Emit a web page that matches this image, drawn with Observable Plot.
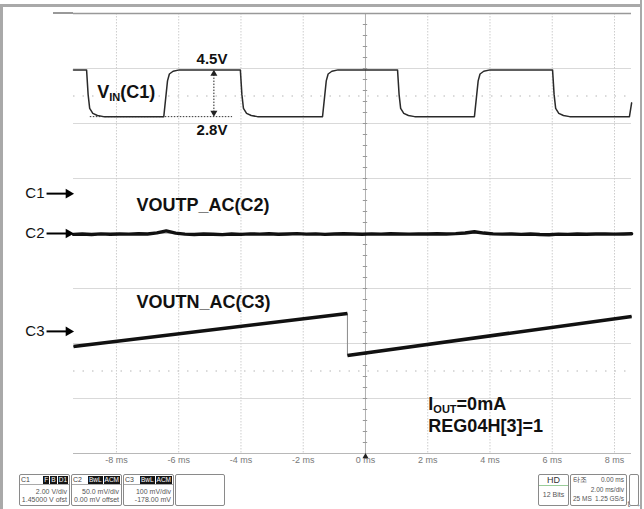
<!DOCTYPE html>
<html><head><meta charset="utf-8">
<script src="https://cdn.jsdelivr.net/npm/d3@7"></script>
<script src="https://cdn.jsdelivr.net/npm/@observablehq/plot@0.6"></script>
<style>
body{margin:0;background:#fff;}
#wrap{position:relative;width:644px;height:509px;overflow:hidden;background:#fff;font-family:"Liberation Sans",Arial,sans-serif;}
#wrap svg{position:absolute;left:0;top:0;}
.bar{position:absolute;background:#a9a9a9;}
.box{position:absolute;top:474px;height:32px;border:1px solid #8a8a8a;border-radius:2px;background:#fff;box-sizing:border-box;white-space:nowrap;overflow:hidden;
 font-family:"Liberation Sans Narrow","Liberation Sans",Arial,sans-serif;font-size:7px;color:#555;line-height:8px;}
.hdr{height:10px;border-bottom:1px solid #aaa;display:flex;align-items:center;padding:0 1px;box-sizing:border-box;}
.hdr .nm{flex:1;color:#444;}
.bd{background:#151515;color:#fff;padding:0 1px;margin-left:1px;font-size:6.5px;line-height:8px;}
.ln{text-align:right;padding-right:2px;}
.row{display:flex;justify-content:space-between;padding:0 2px;font-size:6.5px;}
</style></head><body><div id="wrap"></div>
<script>
// ---- data ----
const channels = ["C1", "C2", "C3"];
const voltsPerDiv = [2.0, 0.05, 0.1];
const offsets = [1.45, 0, -0.178];
const vdivLabels = ["2.00 V/div", "50.0 mV/div", "100 mV/div"];
const offsetLabels = ["1.45000 V ofst", "0.00 mV offset", "-178.00 mV"];
const badges = [["F", "B", "D1"], ["BwL", "ACM"], ["BwL", "ACM"]];
const timeTicks = [-8, -6, -4, -2, 0, 2, 4, 6, 8];
const timeWindow = [-9.38, 8.546];

// C1 input square wave (V)
const c1Time = [-9.38, -8.96, -8.91, -8.86, -8.76, -8.61, -8.41, -6.48, -6.36, -6.30, -6.18, -5.98,
  -4.02, -3.97, -3.92, -3.82, -3.67, -3.47, -1.38, -1.26, -1.20, -1.08, -0.88,
  1.03, 1.08, 1.13, 1.23, 1.38, 1.58, 3.50, 3.62, 3.68, 3.80, 4.00,
  6.01, 6.06, 6.11, 6.21, 6.36, 6.56, 8.48, 8.55];
const c1Volt = [4.5, 4.5, 3.6, 3.1, 2.92, 2.84, 2.8, 2.8, 4.1, 4.35, 4.45, 4.5,
  4.5, 3.6, 3.1, 2.92, 2.84, 2.8, 2.8, 4.1, 4.35, 4.45, 4.5,
  4.5, 3.6, 3.1, 2.92, 2.84, 2.8, 2.8, 4.1, 4.35, 4.45, 4.5,
  4.5, 3.6, 3.1, 2.92, 2.84, 2.8, 2.8, 3.3];

// C2 VOUTP AC (mV)
const c2Time = [-9.38, -9.1, -8.8, -8.5, -8.2, -7.9, -7.6, -7.3, -7.0, -6.7,
  -6.4, -6.1, -5.8, -5.5, -5.2, -4.9, -4.6, -4.3, -4.0, -3.7,
  -3.4, -3.1, -2.8, -2.5, -2.2, -1.9, -1.6, -1.3, -1.0, -0.7,
  -0.4, -0.1, 0.2, 0.5, 0.8, 1.1, 1.4, 1.7, 2.0, 2.3,
  2.6, 2.9, 3.2, 3.5, 3.8, 4.1, 4.4, 4.7, 5.0, 5.3,
  5.6, 5.9, 6.2, 6.5, 6.8, 7.1, 7.4, 7.7, 8.0, 8.3, 8.55];
const c2mV = [-0.8, -0.5, -0.9, -0.3, -0.7, -0.4, -0.6, -0.2, -0.5, 0.6,
  2.4, 0.3, -0.6, -0.9, -0.4, -0.7, -1.0, -0.5, -0.8, -0.3,
  -0.6, -0.2, -0.7, -0.4, -0.1, -0.6, -0.3, -0.8, -0.4, -0.2,
  -0.5, -0.7, -0.3, -0.6, -0.2, -0.4, -0.6, -0.3, -0.5, -0.2,
  -0.4, -0.1, 0.5, 1.6, 0.4, -0.3, -0.6, -0.4, -0.8, -0.5,
  -0.9, -1.1, -0.6, -0.8, -0.4, -0.7, -0.5, -0.3, -0.6, -0.4, -0.2];

// C3 VOUTN AC (V) sawtooth
const c3Time = [-9.38, -0.58, -0.58, 8.55];
const c3Volt = [-0.0275, 0.0325, -0.0438, 0.0271];

// ---- helpers ----
const toDiv = (v, ch) => (v + offsets[ch]) / voltsPerDiv[ch];
const c1 = c1Time.map((t, i) => ({t, y: toDiv(c1Volt[i], 0)}));
const c2 = c2Time.map((t, i) => ({t, y: toDiv(c2mV[i] / 1000, 1)}));
const c3 = c3Time.map((t, i) => ({t, y: toDiv(c3Volt[i], 2)}));
const c3Segs = [];
for (let i = 1; i < c3.length; i++) if (c3[i].t !== c3[i - 1].t) c3Segs.push({a: c3[i - 1], b: c3[i]});
const markers = channels.map((name, i) => ({name, y: toDiv(0, i)}));

const bold = {fontWeight: "bold", fill: "#111", fontFamily: "Liberation Sans, Arial, sans-serif"};

const plot = Plot.plot({
  width: 644, height: 509,
  marginLeft: 73, marginRight: 13, marginTop: 13, marginBottom: 56,
  x: {domain: timeWindow, axis: null},
  y: {domain: [-4, 4], axis: null},
  style: {fontFamily: "Liberation Sans, Arial, sans-serif", background: "transparent", overflow: "visible"},
  marks: [
    Plot.ruleY([-3, -2, -1, 1, 2, 3], {stroke: "#d9d9d9", strokeWidth: 1.2}),
    Plot.ruleY([-2.5, 2.5], {stroke: "#b5b5b5", strokeDasharray: "1.5,8"}),
    Plot.ruleX(timeTicks.filter(t => t !== 0), {stroke: "#cdcdcd", strokeDasharray: "1.5,1.5"}),
    Plot.ruleX([0], {stroke: "#b0b0b0"}),
    Plot.ruleY([0], {stroke: "#c0c0c0"}),
    Plot.ruleY(d3.range(-3.8, 3.9, 0.2), {x1: -0.07, x2: 0.07, stroke: "#999"}),
    Plot.ruleY([4], {stroke: "#999", strokeWidth: 1.5}),
    Plot.ruleY([-4], {stroke: "#b8b8b8", strokeWidth: 1.2}),
    // C1 level annotation
    Plot.ruleY([toDiv(2.8, 0)], {x1: -8.84, x2: -4.27, stroke: "#333", strokeDasharray: "1.5,1.5"}),
    Plot.ruleX([-4.87], {y1: toDiv(4.42, 0), y2: toDiv(2.88, 0), stroke: "#222", strokeDasharray: "1.5,1.5"}),
    Plot.dot([{v: 4.36, r: 0}, {v: 2.94, r: 180}], {x: () => -4.87, y: d => toDiv(d.v, 0), rotate: "r", symbol: "triangle", r: 2.6, fill: "#222", stroke: null}),
    // traces
    Plot.line(c1, {x: "t", y: "y", stroke: "#2a2a2a", strokeWidth: 1.5}),
    Plot.line(c2, {x: "t", y: "y", stroke: "#111", strokeWidth: 3.4}),
    Plot.line(c3, {x: "t", y: "y", stroke: "#8a8a8a", strokeWidth: 1}),
    Plot.link(c3Segs, {x1: d => d.a.t, y1: d => d.a.y, x2: d => d.b.t, y2: d => d.b.y, stroke: "#111", strokeWidth: 3.6}),
    // channel ground markers
    Plot.text(markers, {frameAnchor: "left", y: "y", text: "name", dx: -29, textAnchor: "end", fontSize: 15, fill: "#111"}),
    Plot.ruleY(markers, {y: "y", x1: timeWindow[0] - 0.85, x2: timeWindow[0] - 0.2, stroke: "#000", strokeWidth: 2}),
    Plot.dot(markers, {frameAnchor: "left", y: "y", dx: -5, symbol: "triangle", rotate: 90, r: 3.6, fill: "#000", stroke: null}),
    // annotations
    Plot.text([4.5], {x: () => -4.93, y: d => toDiv(d, 0), text: d => `${d}V`, dy: -11, fontSize: 15, ...bold}),
    Plot.text([2.8], {x: () => -4.93, y: d => toDiv(d, 0), text: d => `${d}V`, dy: 14, fontSize: 15, ...bold}),
    Plot.text(["V|IN|(C1)"], {x: () => -8.62, y: () => toDiv(3.68, 0), text: d => d, textAnchor: "start", fontSize: 18, ...bold}),
    Plot.text(["VOUTP_AC(C2)"], {x: () => -7.36, y: () => 0.51, text: d => d, textAnchor: "start", fontSize: 18, ...bold}),
    Plot.text(["VOUTN_AC(C3)"], {x: () => -7.36, y: () => -1.255, text: d => d, textAnchor: "start", fontSize: 18, ...bold}),
    Plot.text(["I|OUT|=0mA", "REG04H[3]=1"], {x: () => 2.02, y: (d, i) => [-3.10, -3.50][i], text: d => d, textAnchor: "start", fontSize: 18, ...bold}),
    // time axis
    Plot.axisX(timeTicks, {tickSize: 0, tickPadding: 3, tickFormat: d => `${d} ms`, fontSize: 9, fill: "#777",
      fontFamily: "Liberation Sans Narrow, Liberation Sans, Arial, sans-serif"}),
    Plot.dot([0], {x: d => d, frameAnchor: "bottom", dy: 3, symbol: "triangle", r: 2.2, fill: "#222", stroke: null})
  ]
});

// subscripts: "A|sub|rest"
d3.select(plot).selectAll("text").each(function () {
  const s = this.textContent;
  if (!s.includes("|")) return;
  const [a, sub, rest] = s.split("|");
  const el = d3.select(this);
  el.text(null);
  el.append("tspan").text(a);
  el.append("tspan").attr("font-size", 11).attr("dy", 3).text(sub);
  el.append("tspan").attr("dy", -3).text(rest);
});

const wrap = document.getElementById("wrap");
wrap.appendChild(plot);

// scope chrome
const W = d3.select(wrap);
W.append("div").attr("class", "bar").style("left", "0px").style("top", "4px").style("width", "642px").style("height", "3px");
W.append("div").attr("class", "bar").style("left", "0px").style("top", "7px").style("width", "3px").style("height", "502px");
W.append("div").attr("class", "bar").style("left", "640px").style("top", "0px").style("width", "2px").style("height", "509px");
W.append("div").attr("class", "bar").style("left", "53px").style("top", "12px").style("width", "20px").style("height", "1.5px").style("background", "#999");

const lefts = [19, 71, 123];
channels.forEach((name, i) => {
  const b = W.append("div").attr("class", "box").style("left", lefts[i] + "px").style("width", "51px");
  const h = b.append("div").attr("class", "hdr");
  h.append("span").attr("class", "nm").text(name);
  badges[i].forEach(t => h.append("span").attr("class", "bd").text(t));
  b.append("div").attr("class", "ln").style("margin-top", "3px").text(vdivLabels[i]);
  b.append("div").attr("class", "ln").text(offsetLabels[i]);
});
W.append("div").attr("class", "box").style("left", "175px").style("width", "50px");
const hd = W.append("div").attr("class", "box").style("left", "538px").style("width", "31px");
hd.append("div").style("text-align", "center").style("font-size", "9px").style("line-height", "10px").style("color", "#333")
  .style("border-bottom", "1px solid #9c9").text("HD");
hd.append("div").style("text-align", "center").style("margin-top", "5px").text("12 Bits");
const tb = W.append("div").attr("class", "box").style("left", "570px").style("width", "57px");
const r1 = tb.append("div").attr("class", "row").style("margin-top", "1px");
r1.append("span").style("color", "#333").text("타조");
r1.append("span").text("0.00 ms");
tb.append("div").attr("class", "ln").style("margin-top", "2px").style("font-size", "6.5px").text("2.00 ms/div");
const r3 = tb.append("div").attr("class", "row").style("margin-top", "1px");
r3.append("span").text("25 MS");
r3.append("span").text("1.25 GS/s");
W.append("div").attr("class", "box").style("left", "629px").style("width", "10px");
</script>
</body></html>
